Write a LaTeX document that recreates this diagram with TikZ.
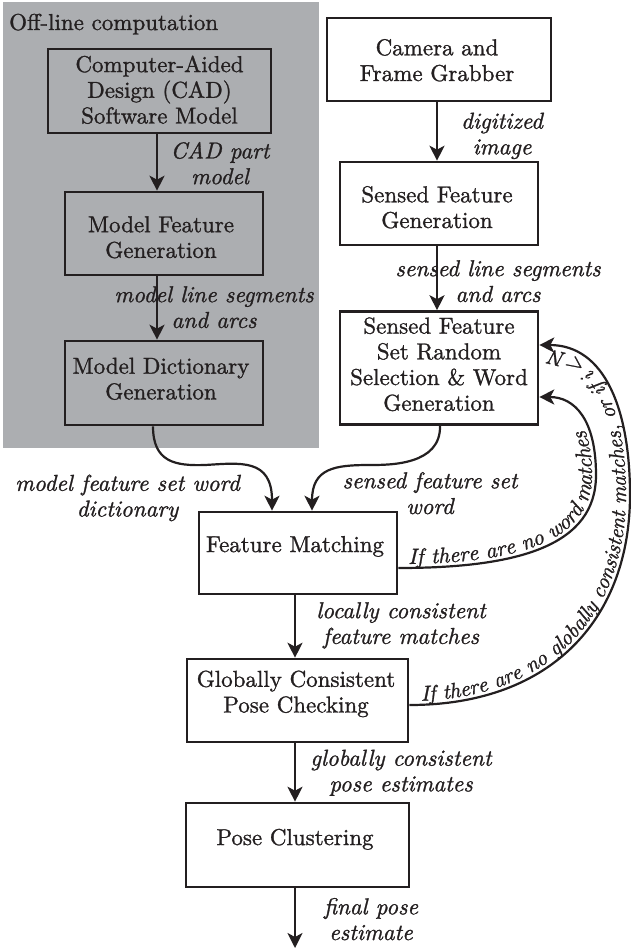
\documentclass[tikz,border=0pt]{standalone}
\usepackage{fontspec}
\setmainfont{lmroman10-regular}[Extension=.otf, ItalicFont=lmroman10-italic,
  BoldFont=lmroman10-bold, BoldItalicFont=lmroman10-bolditalic, FakeBold=1.2]
\usetikzlibrary{arrows.meta,decorations.text}
\definecolor{ink}{RGB}{35,31,32}
\definecolor{panel}{RGB}{172,174,177}
\tikzset{
  frame/.style={draw=ink, line width=2.6pt, inner sep=0pt},
  btext/.style={align=center, inner sep=0pt,
    font=\fontsize{23}{25.7}\selectfont, text=ink,
    execute at begin node=\strut, execute at end node=\strut},
  lbl/.style={btext, font=\itshape\fontsize{23}{25.7}\selectfont},
  conn/.style={draw=ink, line width=2.2pt,
    -{Stealth[length=15pt,width=15pt,inset=4pt]}},
  curvetext/.style={decorate, decoration={text along path, raise=4pt,
    text align={left indent=#1}}},
}
\begin{document}
\begin{tikzpicture}[x=1pt,y=-1pt]
\useasboundingbox (0,0) rectangle (631,950);
% off-line panel
\node[fill=panel, minimum width=316, minimum height=446, inner sep=0pt,
  anchor=north west] (panel) at (3,2) {};
\node[anchor=base west, inner sep=0pt, font=\fontsize{23}{25.7}\selectfont,
  text=ink] (offline) at (9,30) {Off-line computation};
% box frames
\node[frame, minimum width=223, minimum height=84] (cad) at (159.5,91) {};
\node[frame, minimum width=198, minimum height=83] (mfg) at (164,233.5) {};
\node[frame, minimum width=198, minimum height=84] (mdg) at (164,383) {};
\node[frame, minimum width=224, minimum height=83] (cam) at (439,59.5) {};
\node[frame, minimum width=198, minimum height=83] (sfg) at (439,203.5) {};
\node[frame, minimum width=198, minimum height=113] (sfs) at (439,368) {};
\node[frame, minimum width=198, minimum height=82] (fm) at (298,553) {};
\node[frame, minimum width=221, minimum height=83] (gc) at (297.5,700.5) {};
\node[frame, minimum width=223, minimum height=84] (pc) at (297.5,845) {};
% box texts
\node[btext] (cadt) at (159.5,93.4) {Computer-Aided\\Design (CAD)\\Software Model};
\node[btext] (mfgt) at (161,240.9) {Model Feature\\Generation};
\node[btext] (mdgt) at (161,382.4) {Model Dictionary\\Generation};
\node[btext] (camt) at (437,63.9) {Camera and\\Frame Grabber};
\node[btext] (sfgt) at (437,210.9) {Sensed Feature\\Generation};
\node[btext] (sfst) at (439,367.9) {Sensed Feature\\Set Random\\Selection \& Word\\Generation};
\node[btext] (fmt) at (295,546.9) {Feature Matching};
\node[btext] (gct) at (296,695.4) {Globally Consistent\\Pose Checking};
\node[btext] (pct) at (295,839.9) {Pose Clustering};
\coordinate (out) at (295,948);
% labels
\node[lbl] (l1) at (220,166.9) {CAD part\\model};
\node[lbl] (l2) at (502,137.4) {digitized\\image};
\node[lbl] (l3) at (214,310.9) {model line segments\\and arcs};
\node[lbl] (l4) at (498,284.9) {sensed line segments\\and arcs};
\node[lbl] (l5) at (127.5,499.4) {model feature set word\\dictionary};
\node[lbl] (l6) at (430,496.9) {sensed feature set\\word};
\node[lbl] (l7) at (401,626.9) {locally consistent\\feature matches};
\node[lbl] (l8) at (401,774.4) {globally consistent\\pose estimates};
\node[lbl] (l9) at (371,922.9) {final pose\\estimate};
% straight connectors
\draw[conn] ([xshift=-2.5pt]cad.south) -- ([xshift=-7pt]mfg.north);
\draw[conn] ([xshift=-7pt]mfg.south) -- ([xshift=-7pt]mdg.north);
\draw[conn] ([xshift=-2pt]cam.south) -- ([xshift=-2pt]sfg.north);
\draw[conn] ([xshift=-2pt]sfg.south) -- ([xshift=-2pt]sfs.north);
\draw[conn] ([xshift=-3pt]fm.south) -- ([xshift=-2.5pt]gc.north);
\draw[conn] ([xshift=-2.5pt]gc.south) -- ([xshift=-2.5pt]pc.north);
\draw[conn] ([xshift=-2.5pt]pc.south) -- (out);
% merging curves
\draw[conn] ([xshift=-11pt]mdg.south) .. controls (153,462) and (175,466) ..
  (205,465) .. controls (240,463) and (272,458) .. ([xshift=-26pt]fm.north);
\draw[conn] ([xshift=1pt]sfs.south) .. controls (441,465) and (390,465) ..
  (370,465) .. controls (335,465) and (312,468) .. ([xshift=14pt]fm.north);
% feedback loops
\draw[conn] ([yshift=-15pt]fm.east) .. controls (520,568) and (596,545) ..
  (596,475) .. controls (596,420) and (575,397) .. ([yshift=-29pt]sfs.east);
\path[curvetext=10pt, decoration={text={|\itshape\fontsize{22}{24}\selectfont\color{ink}|If there are no word matches}}]
  ([yshift=-15pt]fm.east) .. controls (520,568) and (596,545) ..
  (596,475) .. controls (596,420) and (575,397) .. ([yshift=-29pt]sfs.east);
\draw[conn] ([yshift=-4.5pt]gc.east) .. controls (555,705) and (630,615) ..
  (630,495) .. controls (630,410) and (605,345) .. ([yshift=23pt]sfs.east);
\path[curvetext=12pt, decoration={text={|\itshape\fontsize{21.5}{24}\selectfont\color{ink}|If there are no globally consistent matches, or if i < N}}]
  ([yshift=-4.5pt]gc.east) .. controls (555,705) and (630,615) ..
  (630,495) .. controls (630,410) and (605,345) .. ([yshift=23pt]sfs.east);
\end{tikzpicture}
\end{document}
